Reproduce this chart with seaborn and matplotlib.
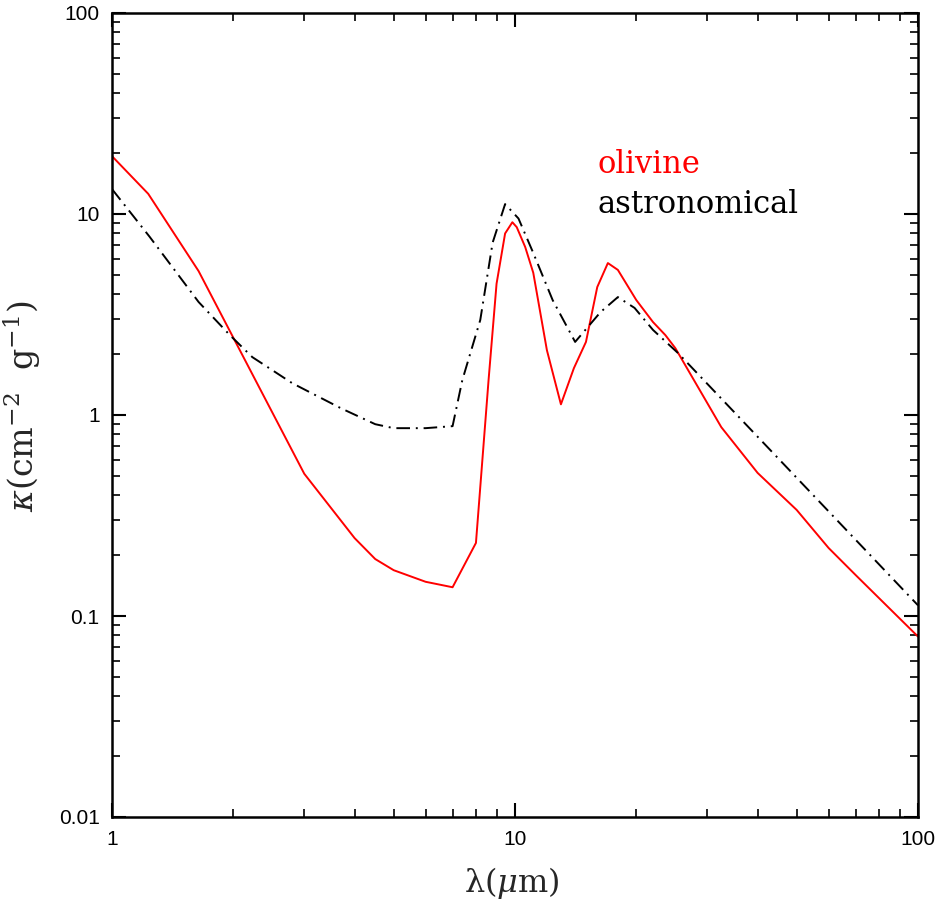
import matplotlib
matplotlib.use("Agg")
import matplotlib.pyplot as plt
import seaborn as sns
import pandas as pd
import numpy as np
from matplotlib.ticker import LogLocator, FixedLocator, FixedFormatter, NullFormatter

# ---- data ----
olivine_wl = [1.0, 1.23, 1.64, 3.0, 4.0, 4.5, 5.0, 6.0, 7.0, 8.0, 8.6, 9.0, 9.45, 9.85,
              10.1, 10.6, 11.1, 12.0, 13.0, 14.0, 15.0, 16.0, 17.0, 18.0, 20.0, 22.0,
              23.6, 25.0, 32.5, 40.0, 50.0, 60.0, 70.0, 100.0]
olivine_kappa = [19.4, 12.6, 5.2, 0.51, 0.244, 0.192, 0.169, 0.148, 0.139, 0.231, 1.5, 4.5,
                 8.0, 9.1, 8.6, 6.85, 5.1, 2.1, 1.13, 1.71, 2.31, 4.33, 5.7, 5.27, 3.73, 2.9,
                 2.5, 2.15, 0.87, 0.515, 0.337, 0.218, 0.16, 0.079]

astro_wl = [1.0, 1.24, 1.64, 1.96, 2.23, 2.8, 3.7, 4.5, 5.0, 6.0, 7.0, 7.4, 8.2, 8.8,
            9.45, 10.2, 11.1, 12.4, 14.1, 16.3, 18.0, 19.8, 22.0, 25.4, 100.0]
astro_kappa = [13.3, 7.7, 3.65, 2.5, 1.94, 1.44, 1.08, 0.9, 0.86, 0.86, 0.88, 1.49, 2.97,
               7.2, 11.2, 9.5, 6.4, 3.73, 2.31, 3.25, 3.86, 3.41, 2.65, 2.03, 0.113]

x_ticks = [1, 10, 100]
x_ticklabels = ["1", "10", "100"]
y_ticks = [0.01, 0.1, 1, 10, 100]
y_ticklabels = ["0.01", "0.1", "1", "10", "100"]

sns.set_style("white")
plt.rcParams["font.family"] = ["Liberation Sans", "DejaVu Sans"]
plt.rcParams["mathtext.fontset"] = "dejavuserif"

fig = plt.figure(figsize=(9.41, 9.05), dpi=100)
ax = fig.add_axes([112/941, 1-817/905, (918-112)/941, (817-13)/905])

df_o = pd.DataFrame({"wl": olivine_wl, "kappa": olivine_kappa})
df_a = pd.DataFrame({"wl": astro_wl, "kappa": astro_kappa})

sns.lineplot(data=df_o, x="wl", y="kappa", sort=False, ax=ax, color="#ff0000", lw=1.4)
sns.lineplot(data=df_a, x="wl", y="kappa", sort=False, ax=ax, color="black", lw=1.4,
             linestyle=(0, (7, 3, 1, 3)))

ax.set_xscale("log")
ax.set_yscale("log")
ax.set_xlim(1, 100)
ax.set_ylim(0.01, 100)

ax.xaxis.set_major_locator(FixedLocator(x_ticks))
ax.xaxis.set_major_formatter(FixedFormatter(x_ticklabels))
ax.yaxis.set_major_locator(FixedLocator(y_ticks))
ax.yaxis.set_major_formatter(FixedFormatter(y_ticklabels))
ax.xaxis.set_minor_locator(LogLocator(base=10, subs=np.arange(2, 10)))
ax.yaxis.set_minor_locator(LogLocator(base=10, subs=np.arange(2, 10)))
ax.xaxis.set_minor_formatter(NullFormatter())
ax.yaxis.set_minor_formatter(NullFormatter())

ax.tick_params(which="both", direction="in", top=True, right=True, bottom=True, left=True,
               colors="black")
ax.tick_params(which="major", length=10, width=1.5, labelsize=15, pad=9)
ax.tick_params(which="minor", length=5.5, width=1.2)
for s in ax.spines.values():
    s.set_linewidth(1.8)
    s.set_color("black")

ax.set_xlabel("λ($\\mu$m)", fontsize=23, family=["DejaVu Serif"])
ax.set_ylabel("$\\kappa(\\mathrm{cm}^{-2}\\ \\ \\mathrm{g}^{-1})$", fontsize=24)
ax.xaxis.set_label_coords(0.4957, -0.060)
ax.yaxis.set_label_coords(-0.0856, 0.5106)

ax.text(16.0, 16.0, "olivine", color="#ff0000", fontsize=22, family="DejaVu Serif",
        va="baseline", ha="left")
ax.text(16.0, 10.1, "astronomical", color="black", fontsize=22, family="DejaVu Serif",
        va="baseline", ha="left")

fig.savefig("out.png", dpi=100)
